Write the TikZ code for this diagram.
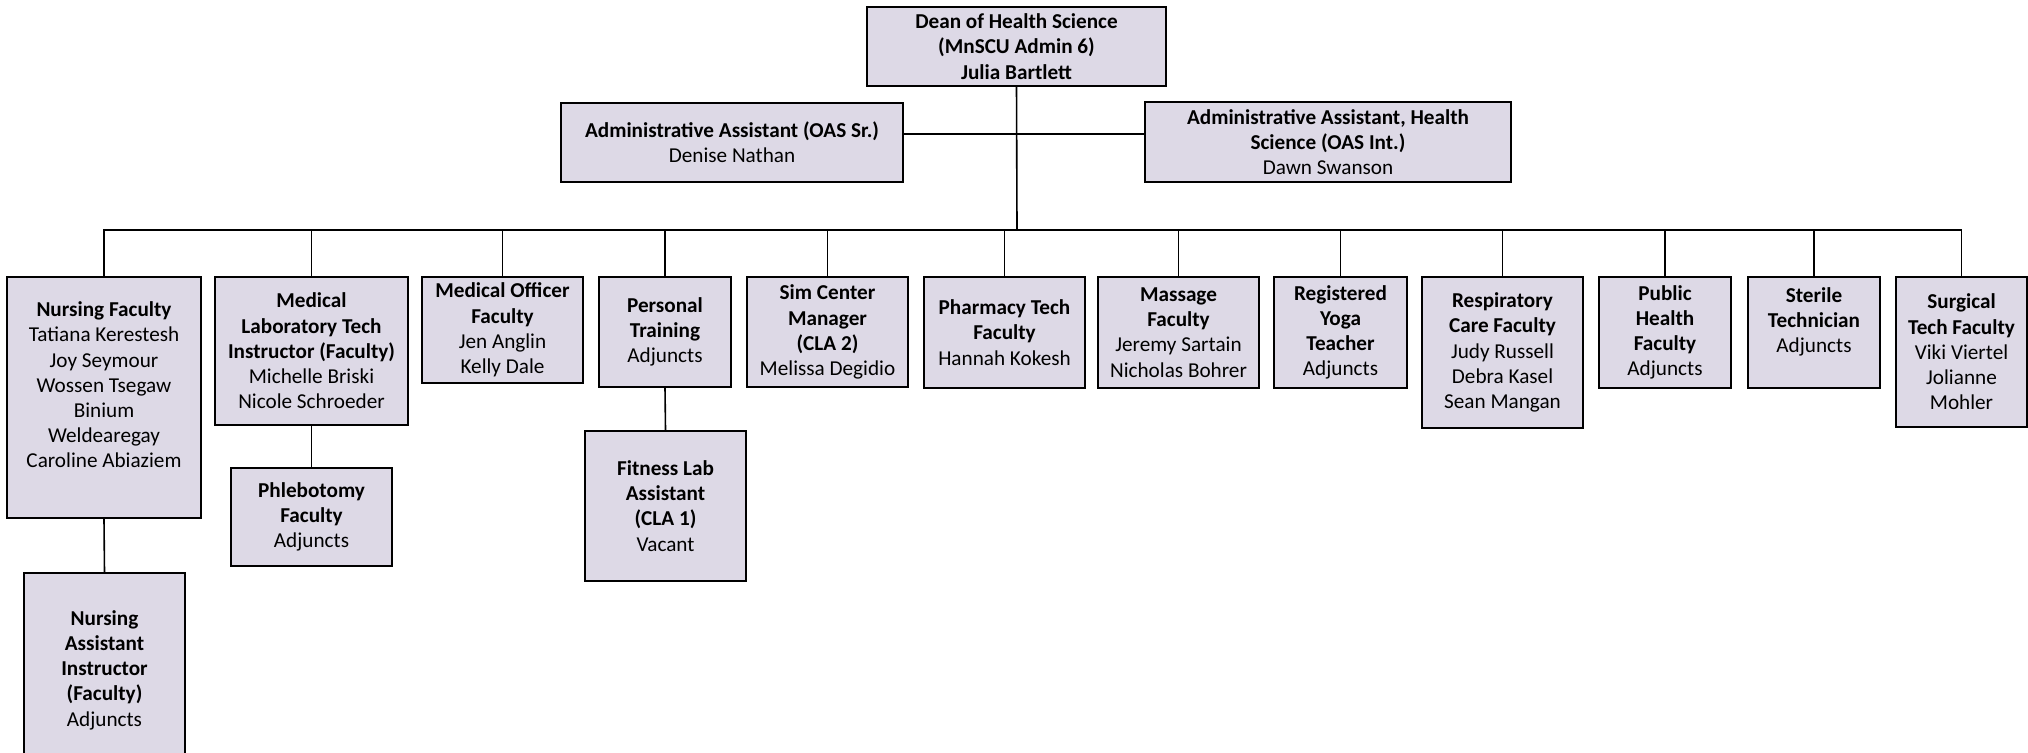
\documentclass[tikz,border=0pt]{standalone}
\usepackage{fontspec}
\setmainfont{Carlito}
\begin{document}
\definecolor{boxfill}{RGB}{221,217,230}
\tikzset{
  orgbox/.style={draw=black, line width=0.9pt, fill=boxfill, inner sep=0pt,
    align=center, font=\fontsize{10.6}{12.6}\selectfont},
  link/.style={draw=black, line width=0.8pt}
}
% \orgbox{name}{center x}{center y}{width}{height}{text}   (units: px)
\newcommand{\orgbox}[6]{%
  \node[orgbox, minimum width=#4*0.5pt, minimum height=#5*0.5pt] (#1) at (#2,#3) {#6};}
\begin{tikzpicture}[x=0.5pt, y=-0.5pt]
\useasboundingbox (0,0) rectangle (2028,753);

% top level
\orgbox{dean}{1016.5}{46.5}{299}{79}{\textbf{Dean of Health Science}\\\textbf{(MnSCU Admin 6)}\\\textbf{Julia Bartlett}}
\orgbox{adminL}{732}{142.5}{342}{79}{\textbf{Administrative Assistant (OAS Sr.)}\\Denise Nathan}
\orgbox{adminR}{1328}{142}{366}{80}{\textbf{Administrative Assistant, Health}\\\textbf{Science (OAS Int.)}\\Dawn Swanson}

% program row
\orgbox{nursing}{104}{397.5}{194}{241}{\textbf{Nursing Faculty}\\Tatiana Kerestesh\\Joy Seymour\\Wossen Tsegaw\\Binium\\Weldearegay\\Caroline Abiaziem\\\mbox{}}
\orgbox{medlab}{311.5}{351}{193}{148}{\textbf{Medical}\\\textbf{Laboratory Tech}\\\textbf{Instructor (Faculty)}\\Michelle Briski\\Nicole Schroeder}
\orgbox{medoff}{502.5}{330}{161}{106}{\textbf{Medical Officer}\\\textbf{Faculty}\\Jen Anglin\\Kelly Dale}
\orgbox{pt}{665}{332}{132}{110}{\textbf{Personal}\\\textbf{Training}\\Adjuncts}
\orgbox{sim}{827.5}{332}{161}{110}{\textbf{Sim Center}\\\textbf{Manager}\\\textbf{(CLA 2)}\\Melissa Degidio}
\orgbox{pharm}{1004.5}{332.5}{161}{111}{\textbf{Pharmacy Tech}\\\textbf{Faculty}\\Hannah Kokesh}
\orgbox{massage}{1178.5}{332.5}{161}{111}{\textbf{Massage}\\\textbf{Faculty}\\Jeremy Sartain\\Nicholas Bohrer}
\orgbox{yoga}{1340.5}{332.5}{133}{111}{\textbf{Registered}\\\textbf{Yoga}\\\textbf{Teacher}\\Adjuncts}
\orgbox{resp}{1502.5}{352.5}{161}{151}{\textbf{Respiratory}\\\textbf{Care Faculty}\\Judy Russell\\Debra Kasel\\Sean Mangan}
\orgbox{pub}{1665}{332.5}{132}{111}{\textbf{Public}\\\textbf{Health}\\\textbf{Faculty}\\Adjuncts}
\orgbox{sterile}{1814}{332.5}{132}{111}{\textbf{Sterile}\\\textbf{Technician}\\Adjuncts\\\mbox{}}
\orgbox{surg}{1961.5}{352}{131}{150}{\textbf{Surgical}\\\textbf{Tech Faculty}\\Viki Viertel\\Jolianne\\Mohler}

% third level
\orgbox{phleb}{311.5}{517}{161}{98}{\textbf{Phlebotomy}\\\textbf{Faculty}\\Adjuncts}
\orgbox{fitness}{665.5}{506}{161}{150}{\textbf{Fitness Lab}\\\textbf{Assistant}\\\textbf{(CLA 1)}\\Vacant}
\orgbox{nursasst}{104.5}{670}{161}{194}{\textbf{Nursing}\\\textbf{Assistant}\\\textbf{Instructor}\\\textbf{(Faculty)}\\Adjuncts}

% junctions
\coordinate (assist) at (1017,134);
\coordinate (bus) at (1017,230);

% connectors
\draw[link] (dean.south) -- (bus);
\draw[link] (adminL.east |- assist) -- (adminR.west |- assist);
\foreach \c in {nursing,medlab,medoff,pt,sim,pharm,massage,yoga,resp,pub,sterile,surg}
  \draw[link] (bus) -| (\c.north);
\draw[link] (nursing.south) -- (nursasst.north);
\draw[link] (medlab.south) -- (phleb.north);
\draw[link] (pt.south) -- (fitness.north);
\end{tikzpicture}
\end{document}
